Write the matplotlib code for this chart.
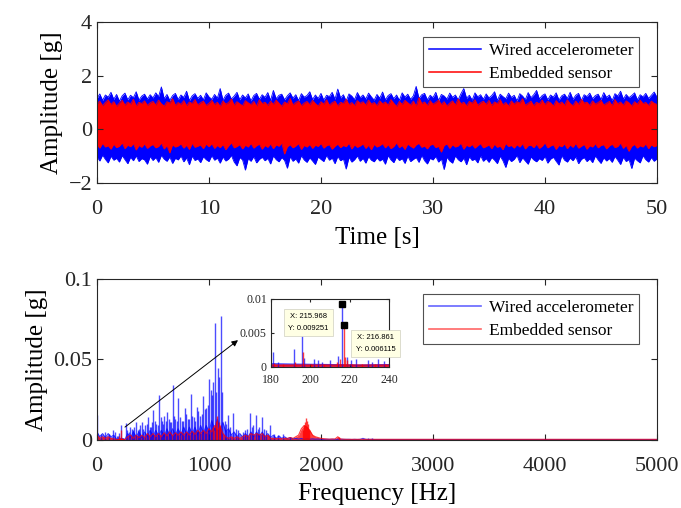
import numpy as np
import matplotlib
matplotlib.use("Agg")
import matplotlib.pyplot as plt
from matplotlib.lines import Line2D

plt.rcParams['font.family'] = ['Liberation Serif', 'DejaVu Serif']
plt.rcParams['axes.linewidth'] = 0.8

LABELS = ['Wired accelerometer', 'Embedded sensor']

# time signal envelopes, sampled every 0.25 s from 0 to 50 s
time_s = np.arange(0, 50.25, 0.25)
blue_hi = [1.15, 1.32, 1.08, 1.28, 1.20, 1.38, 1.12, 1.30, 1.05, 1.25, 1.35, 1.10, 1.27, 1.18, 1.40, 1.09, 1.24, 1.31, 1.13, 1.29,
           1.17, 1.36, 1.22, 1.58, 1.14, 1.30, 1.08, 1.26, 1.34, 1.11, 1.28, 1.19, 1.42, 1.07, 1.25, 1.33, 1.15, 1.27, 1.10, 1.36,
           1.21, 1.12, 1.30, 1.16, 1.52, 1.09, 1.27, 1.35, 1.13, 1.24, 1.38, 1.10, 1.28, 1.17, 1.32, 1.06, 1.26, 1.34, 1.12, 1.29,
           1.19, 1.37, 1.08, 1.45, 1.14, 1.27, 1.31, 1.10, 1.25, 1.36, 1.16, 1.29, 1.07, 1.33, 1.20, 1.26, 1.40, 1.11, 1.28, 1.15,
           1.34, 1.09, 1.27, 1.22, 1.38, 1.12, 1.50, 1.17, 1.29, 1.06, 1.32, 1.24, 1.11, 1.37, 1.18, 1.28, 1.13, 1.35, 1.21, 1.09,
           1.30, 1.16, 1.39, 1.10, 1.26, 1.33, 1.14, 1.28, 1.08, 1.36, 1.20, 1.31, 1.12, 1.25, 1.60, 1.15, 1.29, 1.34, 1.10, 1.27,
           1.18, 1.38, 1.07, 1.30, 1.24, 1.13, 1.35, 1.19, 1.28, 1.10, 1.33, 1.52, 1.16, 1.27, 1.09, 1.36, 1.21, 1.29, 1.12, 1.32,
           1.17, 1.26, 1.40, 1.08, 1.31, 1.22, 1.14, 1.35, 1.19, 1.27, 1.06, 1.33, 1.24, 1.11, 1.37, 1.18, 1.29, 1.45, 1.13, 1.26,
           1.32, 1.10, 1.28, 1.20, 1.36, 1.09, 1.25, 1.31, 1.15, 1.38, 1.12, 1.27, 1.34, 1.08, 1.29, 1.22, 1.35, 1.14, 1.26, 1.31,
           1.11, 1.37, 1.19, 1.28, 1.07, 1.33, 1.24, 1.42, 1.13, 1.30, 1.18, 1.26, 1.36, 1.10, 1.29, 1.21, 1.34, 1.15, 1.27, 1.39,
           1.20]
blue_lo = [-1.02, -1.18, -0.96, -1.12, -1.25, -1.00, -1.15, -1.08, -1.22, -0.98, -1.13, -1.28, -1.04, -1.17, -0.99, -1.20, -1.09, -1.14, -1.30, -1.01,
           -1.16, -1.05, -1.23, -0.97, -1.11, -1.19, -1.03, -1.27, -1.08, -1.14, -0.99, -1.21, -1.06, -1.32, -1.00, -1.16, -1.10, -1.24, -1.02, -1.13,
           -1.20, -0.98, -1.15, -1.07, -1.26, -1.03, -1.18, -1.11, -0.97, -1.22, -1.36, -1.05, -1.14, -1.52, -1.09, -1.19, -1.01, -1.25, -1.12, -1.04,
           -1.17, -1.08, -1.29, -0.99, -1.13, -1.21, -1.05, -1.16, -1.45, -1.02, -1.19, -1.10, -1.26, -0.98, -1.14, -1.23, -1.06, -1.18, -1.31, -1.03,
           -1.12, -1.20, -0.97, -1.15, -1.07, -1.28, -1.01, -1.17, -1.10, -1.48, -1.04, -1.22, -1.13, -0.99, -1.19, -1.08, -1.26, -1.02, -1.15, -1.21,
           -1.06, -1.18, -1.11, -1.30, -0.98, -1.14, -1.24, -1.03, -1.16, -1.09, -1.27, -1.00, -1.20, -1.12, -1.05, -1.23, -0.97, -1.17, -1.29, -1.08,
           -1.14, -1.01, -1.22, -1.10, -1.50, -1.04, -1.18, -1.26, -0.99, -1.13, -1.21, -1.07, -1.32, -1.02, -1.16, -1.11, -1.25, -0.98, -1.19, -1.09,
           -1.23, -1.05, -1.15, -1.28, -1.00, -1.17, -1.42, -1.08, -1.20, -1.12, -0.97, -1.24, -1.06, -1.18, -1.30, -1.03, -1.14, -1.21, -1.09, -1.16,
           -1.01, -1.26, -1.11, -1.04, -1.19, -1.33, -0.98, -1.15, -1.22, -1.07, -1.17, -1.02, -1.28, -1.12, -1.05, -1.20, -1.10, -1.24, -0.99, -1.14,
           -1.27, -1.06, -1.18, -1.09, -1.23, -1.01, -1.15, -1.31, -1.04, -1.20, -1.12, -1.46, -1.07, -1.17, -1.25, -0.98, -1.13, -1.22, -1.05, -1.19,
           -1.10]
red_hi = [0.95, 1.05, 0.88, 1.00, 1.10, 0.92, 1.03, 0.86, 0.98, 1.08, 0.90, 1.02, 0.94, 1.12, 0.87, 1.01, 0.96, 1.06, 0.89, 0.99,
          1.04, 0.91, 1.09, 0.95, 0.87, 1.03, 0.98, 1.14, 0.90, 1.00, 0.93, 1.07, 0.88, 1.02, 0.96, 1.11, 0.91, 0.99, 1.05, 0.89,
          0.97, 1.08, 0.92, 1.01, 0.86, 1.06, 0.94, 1.00, 1.13, 0.90, 1.03, 0.95, 0.88, 1.07, 0.99, 0.92, 1.04, 0.87, 1.10, 0.96,
          1.01, 0.89, 1.05, 0.93, 1.09, 0.97, 0.86, 1.02, 0.95, 1.15, 0.91, 1.00, 1.06, 0.88, 0.98, 1.04, 0.92, 1.08, 0.96, 0.87,
          1.03, 0.94, 1.10, 0.90, 0.99, 1.05, 0.87, 1.01, 0.96, 1.12, 0.92, 1.00, 0.89, 1.07, 0.97, 1.03, 0.91, 1.09, 0.94, 1.00,
          0.88, 1.06, 0.95, 1.02, 0.90, 1.11, 0.97, 0.86, 1.04, 0.93, 1.08, 0.99, 0.91, 1.05, 0.87, 1.18, 0.96, 1.02, 0.89, 1.07,
          0.94, 1.00, 1.09, 0.92, 1.03, 0.87, 0.98, 1.06, 0.91, 1.13, 0.95, 1.01, 0.88, 1.04, 0.97, 1.10, 0.90, 0.99, 1.05, 0.93,
          1.08, 0.89, 1.02, 0.96, 1.11, 0.91, 1.00, 0.87, 1.06, 0.94, 1.03, 0.98, 1.14, 0.90, 0.97, 1.05, 0.88, 1.01, 0.95, 1.09,
          0.92, 1.04, 0.99, 0.87, 1.07, 0.95, 1.02, 0.90, 1.10, 0.96, 0.88, 1.05, 0.93, 1.12, 0.98, 1.01, 0.89, 1.06, 0.94, 1.00,
          1.08, 0.91, 0.97, 1.04, 0.88, 1.11, 0.95, 1.02, 0.90, 1.06, 0.99, 0.87, 1.03, 0.94, 1.09, 0.96, 1.00, 0.89, 1.05, 0.97,
          0.93]
red_lo = [-0.58, -0.70, -0.52, -0.66, -0.61, -0.74, -0.55, -0.68, -0.63, -0.50, -0.72, -0.59, -0.65, -0.53, -0.77, -0.60, -0.67, -0.54, -0.71, -0.62,
          -0.56, -0.69, -0.64, -0.51, -0.73, -0.60, -0.88, -0.57, -0.66, -0.62, -0.54, -0.70, -0.59, -0.75, -0.52, -0.67, -0.63, -0.58, -0.72, -0.55,
          -0.65, -0.53, -0.71, -0.60, -0.68, -0.56, -0.76, -0.62, -0.50, -0.69, -0.64, -0.57, -0.73, -0.59, -0.66, -0.52, -0.70, -0.61, -0.55, -0.74,
          -0.60, -0.67, -0.54, -0.72, -0.58, -0.63, -0.51, -0.92, -0.65, -0.57, -0.69, -0.62, -0.53, -0.75, -0.60, -0.66, -0.56, -0.71, -0.59, -0.64,
          -0.52, -0.70, -0.61, -0.57, -0.74, -0.63, -0.55, -0.68, -0.60, -0.65, -0.51, -0.73, -0.58, -0.67, -0.62, -0.54, -0.71, -0.59, -0.76, -0.56,
          -0.66, -0.61, -0.53, -0.69, -0.57, -0.72, -0.64, -0.50, -0.68, -0.60, -0.75, -0.55, -0.63, -0.70, -0.58, -0.52, -0.67, -0.62, -0.73, -0.59,
          -0.55, -0.68, -0.63, -0.85, -0.60, -0.54, -0.71, -0.57, -0.66, -0.62, -0.51, -0.74, -0.59, -0.65, -0.56, -0.70, -0.61, -0.53, -0.69, -0.64,
          -0.58, -0.72, -0.55, -0.67, -0.62, -0.76, -0.52, -0.64, -0.60, -0.70, -0.57, -0.66, -0.53, -0.73, -0.61, -0.59, -0.68, -0.55, -0.71, -0.63,
          -0.50, -0.69, -0.62, -0.57, -0.75, -0.60, -0.65, -0.54, -0.72, -0.58, -0.67, -0.52, -0.70, -0.63, -0.56, -0.74, -0.61, -0.66, -0.53, -0.69,
          -0.60, -0.57, -0.73, -0.62, -0.55, -0.68, -0.64, -0.51, -0.71, -0.59, -0.82, -0.63, -0.56, -0.70, -0.61, -0.66, -0.54, -0.72, -0.58, -0.65,
          -0.60]

# spectrum background level: every 25 Hz up to 2500 Hz, then every 250 Hz
floor_hz = np.concatenate([np.arange(0, 2500, 25), np.arange(2500, 5001, 250)])
blue_floor = [0.005, 0.002, 0.004, 0.0015, 0.004, 0.002, 0.003, 0.0005, 0.0004, 0.0003,
              0.0004, 0.004, 0.0015, 0.005, 0.002, 0.005, 0.0015, 0.005, 0.002, 0.006,
              0.002, 0.006, 0.0025, 0.006, 0.002, 0.007, 0.0025, 0.007, 0.003, 0.007,
              0.003, 0.008, 0.003, 0.008, 0.0035, 0.008, 0.003, 0.009, 0.004, 0.009,
              0.005, 0.012, 0.006, 0.013, 0.006, 0.011, 0.005, 0.007, 0.003, 0.005,
              0.002, 0.004, 0.002, 0.004, 0.002, 0.005, 0.002, 0.005, 0.002, 0.005,
              0.002, 0.004, 0.0015, 0.003, 0.001, 0.0025, 0.001, 0.002, 0.0008, 0.0015,
              0.0008, 0.001, 0.0006, 0.0009, 0.0005, 0.0008, 0.0005, 0.0007, 0.0005, 0.0006,
              0.0005, 0.0004, 0.0005, 0.0004, 0.0005, 0.0004, 0.0004, 0.0005, 0.0004, 0.0004,
              0.0004, 0.0003, 0.0004, 0.0003, 0.0004, 0.0010, 0.0004, 0.0003, 0.0004, 0.0003,
              0.0003, 0.0003, 0.0003, 0.0003, 0.0003, 0.0003, 0.0003, 0.0003, 0.0003, 0.0003, 0.0003]
red_floor = [0.003, 0.001, 0.002, 0.001, 0.002, 0.001, 0.0008, 0.0003, 0.0003, 0.0003,
             0.0003, 0.002, 0.003, 0.001, 0.003, 0.0015, 0.003, 0.0015, 0.004, 0.002,
             0.004, 0.002, 0.004, 0.002, 0.0045, 0.0025, 0.005, 0.0025, 0.0045, 0.003,
             0.005, 0.003, 0.005, 0.003, 0.0055, 0.0035, 0.006, 0.004, 0.006, 0.004,
             0.007, 0.005, 0.009, 0.006, 0.008, 0.004, 0.002, 0.001, 0.002, 0.001,
             0.002, 0.001, 0.002, 0.003, 0.002, 0.004, 0.003, 0.004, 0.003, 0.004,
             0.002, 0.003, 0.001, 0.001, 0.0008, 0.001, 0.0007, 0.001, 0.001, 0.0015,
             0.001, 0.002, 0.003, 0.007, 0.009, 0.008, 0.006, 0.003, 0.002, 0.0015,
             0.001, 0.0008, 0.0006, 0.0005, 0.0006, 0.0006, 0.0020, 0.0006, 0.0005, 0.0004,
             0.0004, 0.0004, 0.0004, 0.0004, 0.0004, 0.0004, 0.0004, 0.0004, 0.0004, 0.0004,
             0.0004, 0.0004, 0.0004, 0.0004, 0.0004, 0.0004, 0.0004, 0.0004, 0.0004, 0.0004, 0.0004]

blue_peak_hz = [3, 40, 70, 110, 140, 160,
                181.2, 183.7, 191.9, 195.8, 196.9, 201.6, 203.7, 205.9, 210.2, 214.1,
                215.968, 218.4, 220.4, 223.4, 229.4, 231.1, 234.6, 237.4,
                259, 270, 285, 295, 310, 320, 335, 348, 362, 375, 388, 399, 415, 430,
                445, 458, 470, 480, 492, 503, 518, 530, 545, 557, 568, 580, 590, 600,
                612, 622, 640, 650, 662, 676, 688, 700, 713, 726, 740, 755, 770, 786,
                798, 810, 825, 839, 852, 865, 878, 890, 905, 920, 935, 949, 962, 975, 990,
                1003, 1018, 1030, 1040, 1054, 1065, 1077, 1092, 1107, 1120, 1140, 1155, 1167,
                1190, 1217, 1240, 1260, 1300, 1320, 1340, 1366, 1380, 1395, 1420, 1435, 1450,
                1476, 1495, 1510, 1545, 1580, 1620, 1658, 1720, 2420, 2460]
blue_peak_amp = [0.0155, 0.004, 0.005, 0.004, 0.006, 0.005,
                 0.0022, 0.0007, 0.0027, 0.0045, 0.0013, 0.0012, 0.0010, 0.0007, 0.0010, 0.0016,
                 0.009251, 0.0015, 0.0010, 0.0012, 0.0010, 0.0007, 0.0012, 0.0009,
                 0.0104, 0.006, 0.005, 0.0083, 0.007, 0.006, 0.008, 0.011, 0.006, 0.007,
                 0.009, 0.011, 0.007, 0.009, 0.010, 0.0145, 0.008, 0.008, 0.011, 0.0186,
                 0.012, 0.010, 0.009, 0.028, 0.014, 0.012, 0.010, 0.015, 0.012, 0.0176,
                 0.013, 0.011, 0.011, 0.0342, 0.015, 0.013, 0.012, 0.026, 0.014, 0.012,
                 0.012, 0.0197, 0.016, 0.013, 0.013, 0.0286, 0.015, 0.014, 0.012, 0.0207,
                 0.018, 0.015, 0.016, 0.0273, 0.019, 0.020, 0.022,
                 0.0377, 0.031, 0.028, 0.036, 0.0729, 0.030, 0.0445, 0.039, 0.077, 0.030, 0.012, 0.010, 0.0155,
                 0.008, 0.0166, 0.007, 0.006, 0.005, 0.006, 0.007, 0.017, 0.008, 0.009, 0.0155, 0.007, 0.008,
                 0.0145, 0.007, 0.006, 0.0093, 0.004, 0.003, 0.0037, 0.002, 0.0015, 0.001]
red_peak_hz = [181.5, 186, 192.3, 196.2, 200.5, 207, 213.5, 215.2, 216.861, 217.6,
               218.5, 221, 226, 233, 238,
               1040, 1060, 1075, 1090, 1100, 1840, 1850, 1858, 1866, 1874, 1880, 1895, 2160]
red_peak_amp = [0.0006, 0.0004, 0.0008, 0.0022, 0.0005, 0.0004, 0.0008, 0.0012, 0.006115, 0.0015,
                0.0010, 0.0005, 0.0004, 0.0005, 0.0004,
                0.008, 0.012, 0.015, 0.011, 0.009, 0.006, 0.009, 0.011, 0.0135, 0.012, 0.010, 0.006, 0.002]

fig = plt.figure(figsize=(6.81, 5.08), dpi=100)
ax1 = fig.add_axes([0.1424, 0.6398, 0.8223, 0.3169])
ax2 = fig.add_axes([0.1424, 0.1339, 0.8223, 0.3169])
ax_in = fig.add_axes([0.398, 0.2776, 0.1733, 0.1339])

spine_col = '#262626'
for ax in (ax1, ax2, ax_in):
    for s in ax.spines.values():
        s.set_color(spine_col)
        s.set_linewidth(0.8)
    ax.tick_params(direction='in', top=True, right=True, colors=spine_col,
                   labelcolor='#262626', length=4, width=0.8)

legend_kw = dict(loc='upper right', bbox_to_anchor=(0.968, 0.905), fontsize=12.5,
                 handlelength=3.0, fancybox=False, borderpad=0.3, labelspacing=0.4,
                 handletextpad=0.5, borderaxespad=0)

# time history
ax1.fill_between(time_s, blue_lo, blue_hi, color='blue', lw=0)
ax1.plot(time_s, blue_hi, color='blue', lw=0.6)
ax1.plot(time_s, blue_lo, color='blue', lw=0.6)
ax1.fill_between(time_s, red_lo, red_hi, color='red', lw=0)
ax1.plot(time_s, red_hi, color='red', lw=0.6)
ax1.plot(time_s, red_lo, color='red', lw=0.6)
ax1.set_xlim(0, 50)
ax1.set_ylim(-2, 4)
ax1.set_xticks([0, 10, 20, 30, 40, 50])
ax1.set_yticks([-2, 0, 2, 4])
ax1.tick_params(labelsize=16)
ax1.tick_params(axis='x', pad=12)
ax1.set_xlabel('Time [s]', fontsize=18, labelpad=6)
ax1.set_ylabel('Amplitude [g]', fontsize=18, labelpad=4)
h1 = [Line2D([], [], color='blue', lw=1.1), Line2D([], [], color='red', lw=1.1)]
leg = ax1.legend(h1, LABELS, **legend_kw)
leg.get_frame().set_edgecolor('#262626')
leg.get_frame().set_linewidth(0.8)

# spectrum (the inset shows the same data around 180-240 Hz)
b_alpha = 0.7
r_alpha = 0.75
for ax in (ax2, ax_in):
    ax.fill_between(floor_hz, 0, blue_floor, color='blue', lw=0, alpha=b_alpha * 0.8)
    ax.plot(floor_hz, blue_floor, color='blue', lw=0.8, alpha=b_alpha)
    ax.vlines(blue_peak_hz, 0, blue_peak_amp, color='blue', lw=1.0, alpha=b_alpha)
    ax.fill_between(floor_hz, 0, red_floor, color='red', lw=0, alpha=r_alpha)
    ax.plot(floor_hz, red_floor, color='red', lw=0.8, alpha=r_alpha)
    ax.vlines(red_peak_hz, 0, red_peak_amp, color='red', lw=1.0, alpha=r_alpha)

ax2.set_xlim(0, 5000)
ax2.set_ylim(0, 0.1)
ax2.set_xticks([0, 1000, 2000, 3000, 4000, 5000])
ax2.set_yticks([0, 0.05, 0.1])
ax2.set_yticklabels(['0', '0.05', '0.1'])
ax2.tick_params(labelsize=16)
ax2.tick_params(axis='x', pad=12)
ax2.set_xlabel('Frequency [Hz]', fontsize=18, labelpad=5)
ax2.set_ylabel('Amplitude [g]', fontsize=18, labelpad=4)
h2 = [Line2D([], [], color='blue', lw=1.2, alpha=0.6), Line2D([], [], color='red', lw=1.2, alpha=0.6)]
leg2 = ax2.legend(h2, LABELS, **legend_kw)
leg2.get_frame().set_edgecolor('#262626')
leg2.get_frame().set_linewidth(0.8)

ax2.annotate('', xy=(1259, 0.062), xytext=(250, 0.008),
             arrowprops=dict(arrowstyle='-|>', color='black', lw=0.7,
                             mutation_scale=9, shrinkA=0, shrinkB=0))

# zoomed inset
ax_in.set_xlim(180, 240)
ax_in.set_ylim(0, 0.01)
ax_in.set_xticks([180, 200, 220, 240])
ax_in.set_yticks([0, 0.005, 0.01])
ax_in.set_yticklabels(['0', '0.005', '0.01'])
ax_in.tick_params(labelsize=8.5, length=2.5, pad=3)
ax_in.tick_params(axis='x', pad=5)

tip_font = dict(family=['Liberation Sans', 'DejaVu Sans'], fontsize=5.5)
tip_box = dict(boxstyle='square,pad=0.55', fc='#ffffe4', ec='#cfcfbf', lw=0.5)
ax_in.plot([215.968], [0.009251], 's', color='black', ms=4.5, clip_on=False, zorder=12)
ax_in.plot([216.861], [0.006115], 's', color='black', ms=4.5, clip_on=False, zorder=12)
ax_in.text(199.1, 0.00654, 'X: 215.968\nY: 0.009251', ha='center', va='center',
           linespacing=1.9, bbox=tip_box, clip_on=False, zorder=11, **tip_font)
ax_in.text(233.1, 0.00346, 'X: 216.861\nY: 0.006115', ha='center', va='center',
           linespacing=1.9, bbox=tip_box, clip_on=False, zorder=11, **tip_font)

fig.savefig('out.png', dpi=100)
